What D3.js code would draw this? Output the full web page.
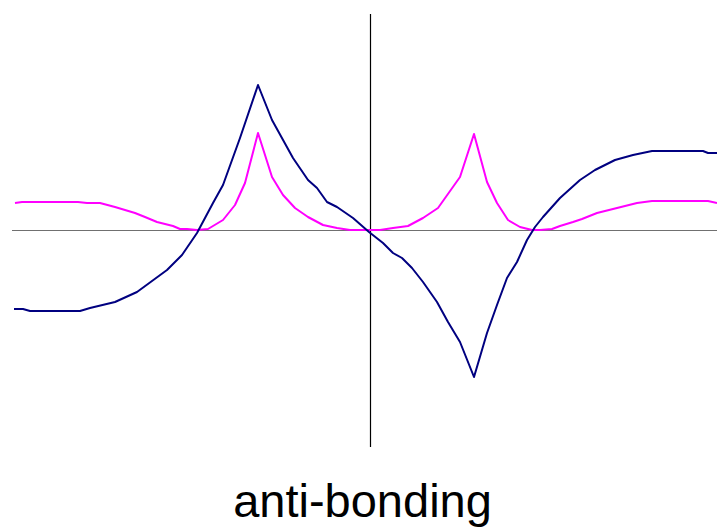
<!DOCTYPE html>
<html>
<head>
<meta charset="utf-8">
<script src="https://cdn.jsdelivr.net/npm/d3@7/dist/d3.min.js"></script>
<style>
  html, body { margin: 0; padding: 0; background: #ffffff; }
  svg { display: block; }
</style>
</head>
<body>
<svg id="chart" width="717" height="527"></svg>
<script>
// Anti-bonding orbital: wavefunction (psi) and probability density (psi^2)
const psiX = [-3.56,-3.47,-3.40,-2.90,-2.80,-2.55,-2.33,-2.03,-1.88,-1.73,-1.57,-1.47,-1.30,-1.12,
  -0.98,-0.77,-0.62,-0.53,-0.43,-0.33,-0.17,-0.01,0.13,0.23,0.32,0.42,0.53,0.67,0.78,0.90,1.04,
  1.17,1.27,1.37,1.47,1.57,1.65,1.73,1.90,2.10,2.25,2.45,2.63,2.82,3.33,3.38,3.47];
const psiY = [-0.79,-0.79,-0.81,-0.81,-0.78,-0.72,-0.62,-0.40,-0.25,-0.03,0.27,0.45,0.92,1.45,
  1.10,0.72,0.50,0.42,0.28,0.23,0.12,-0.02,-0.13,-0.23,-0.28,-0.38,-0.52,-0.72,-0.92,-1.12,-1.47,
  -1.03,-0.75,-0.48,-0.32,-0.10,0.03,0.13,0.32,0.50,0.60,0.70,0.75,0.79,0.79,0.77,0.77];

const densX = [-3.55,-3.48,-2.92,-2.83,-2.70,-2.55,-2.35,-2.25,-2.13,-1.97,-1.90,-1.83,-1.73,-1.62,-1.47,
  -1.35,-1.25,-1.12,-0.98,-0.87,-0.75,-0.62,-0.47,-0.33,-0.20,-0.03,0.10,0.23,0.38,0.53,0.68,0.90,1.04,
  1.17,1.27,1.38,1.50,1.62,1.70,1.82,1.90,2.03,2.12,2.27,2.47,2.67,2.82,3.38,3.47];
const densY = [0.27,0.28,0.28,0.27,0.27,0.23,0.17,0.13,0.08,0.04,0.01,0.01,0.00,0.01,0.10,
  0.25,0.47,0.97,0.53,0.35,0.22,0.13,0.05,0.02,0.00,0.00,0.00,0.02,0.04,0.12,0.22,0.53,0.96,
  0.48,0.27,0.10,0.03,0.00,0.00,0.01,0.04,0.08,0.11,0.17,0.22,0.27,0.29,0.29,0.27];

const title = "anti-bonding";

const svg = d3.select("#chart");

const x = d3.scaleLinear().domain([-3.58, 3.47]).range([12, 717]);
const y = d3.scaleLinear().domain([-2.17, 2.16]).range([447, 14]);

// Axes through the origin
svg.append("line")
  .attr("x1", x.range()[0]).attr("x2", x.range()[1])
  .attr("y1", y(0) + 0.5).attr("y2", y(0) + 0.5)
  .attr("stroke", "#707070").attr("stroke-width", 1.2);

svg.append("line")
  .attr("x1", x(0) + 0.5).attr("x2", x(0) + 0.5)
  .attr("y1", y.range()[1]).attr("y2", y.range()[0])
  .attr("stroke", "#000000").attr("stroke-width", 1.2);

const line = d3.line().x(d => x(d[0])).y(d => y(d[1]));

svg.append("path")
  .datum(densX.map((v, i) => [v, densY[i]]))
  .attr("d", line)
  .attr("fill", "none")
  .attr("stroke", "#ff00ff")
  .attr("stroke-width", 2)
  .attr("stroke-linejoin", "round");

svg.append("path")
  .datum(psiX.map((v, i) => [v, psiY[i]]))
  .attr("d", line)
  .attr("fill", "none")
  .attr("stroke", "#000080")
  .attr("stroke-width", 2)
  .attr("stroke-linejoin", "round");

svg.append("text")
  .attr("x", 362.5)
  .attr("y", 517)
  .attr("text-anchor", "middle")
  .attr("font-family", "'Liberation Sans', Arial, sans-serif")
  .attr("font-size", 47)
  .attr("fill", "#000000")
  .text(title);
</script>
</body>
</html>
